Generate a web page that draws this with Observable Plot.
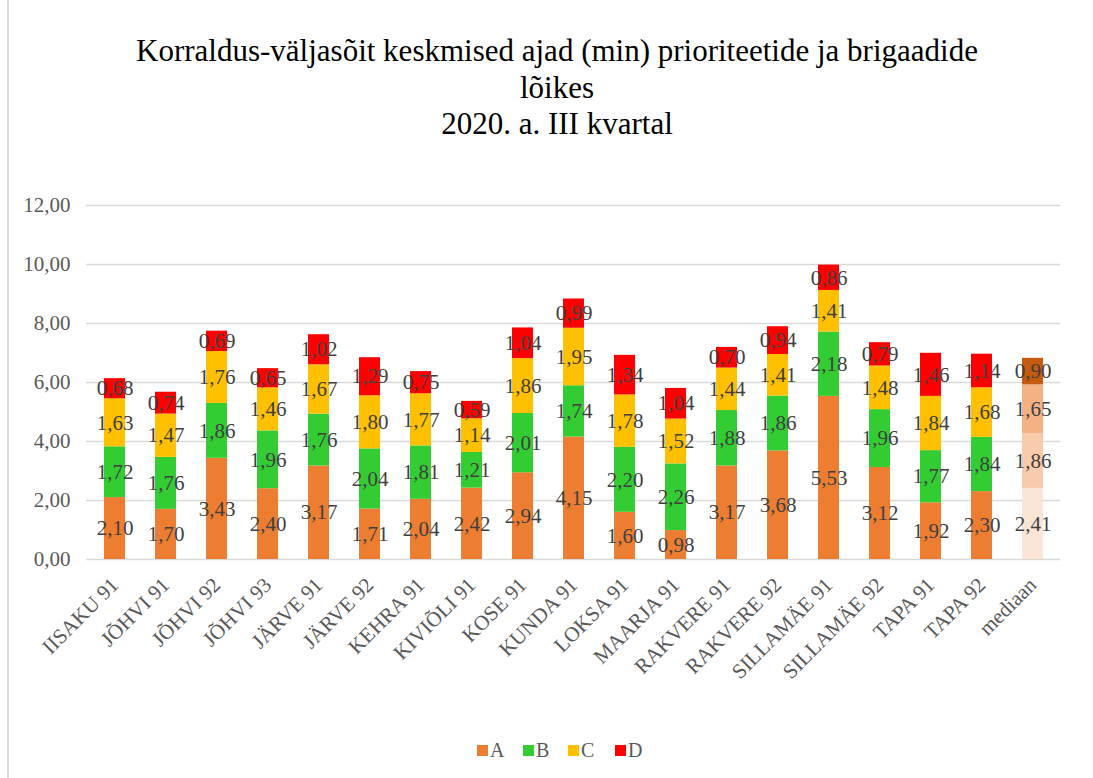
<!DOCTYPE html>
<html>
<head>
<meta charset="utf-8">
<script src="https://cdn.jsdelivr.net/npm/d3@7"></script>
<script src="https://cdn.jsdelivr.net/npm/@observablehq/plot@0.6"></script>
<style>
  html, body { margin: 0; padding: 0; background: #fff; }
  #chart { position: relative; width: 1093px; height: 778px; overflow: hidden; font-family: "Liberation Serif", "Times New Roman", "DejaVu Serif", serif; }
  #border { position: absolute; left: 7px; top: 0; width: 2px; height: 778px; background: #d9d9d9; }
  #title { position: absolute; left: 0; top: 33px; width: 1114px; text-align: center; font-size: 31px; line-height: 36.5px; color: #000; }
  #plot { position: absolute; left: 0; top: 150px; }
  #legend { position: absolute; top: 738px; left: 0; width: 1093px; height: 24px; }
  .li { position: absolute; top: 0; font-size: 20px; color: #595959; line-height: 24px; }
  .sw { display: inline-block; width: 11px; height: 11px; margin-right: 2px; vertical-align: 1px; }
  #plot svg, #plot svg text { font-family: "Liberation Serif", "Times New Roman", "DejaVu Serif", serif !important; }
</style>
</head>
<body>
<div id="chart">
  <div id="border"></div>
  <div id="title">Korraldus-väljasõit keskmised ajad (min) prioriteetide ja brigaadide<br>lõikes<br>2020. a. III kvartal</div>
  <div id="plot"></div>
  <div id="legend"></div>
</div>
<script>
const categories = ["IISAKU 91","JÕHVI 91","JÕHVI 92","JÕHVI 93","JÄRVE 91","JÄRVE 92","KEHRA 91","KIVIÕLI 91","KOSE 91","KUNDA 91","LOKSA 91","MAARJA 91","RAKVERE 91","RAKVERE 92","SILLAMÄE 91","SILLAMÄE 92","TAPA 91","TAPA 92","mediaan"];
const seriesNames = ["A","B","C","D"];
const valuesA = [2.10,1.70,3.43,2.40,3.17,1.71,2.04,2.42,2.94,4.15,1.60,0.98,3.17,3.68,5.53,3.12,1.92,2.30,2.41];
const valuesB = [1.72,1.76,1.86,1.96,1.76,2.04,1.81,1.21,2.01,1.74,2.20,2.26,1.88,1.86,2.18,1.96,1.77,1.84,1.86];
const valuesC = [1.63,1.47,1.76,1.46,1.67,1.80,1.77,1.14,1.86,1.95,1.78,1.52,1.44,1.41,1.41,1.48,1.84,1.68,1.65];
const valuesD = [0.68,0.74,0.69,0.65,1.02,1.29,0.75,0.59,1.04,0.99,1.34,1.04,0.70,0.94,0.86,0.79,1.46,1.14,0.90];
const yTicks = [0,2,4,6,8,10,12];
const colors = {A: "#ED7D31", B: "#33CC33", C: "#FFC000", D: "#FF0000"};
const medianColors = {A: "#FBE5D6", B: "#F8CBAD", C: "#F4B183", D: "#C55A11"};

const seriesValues = [valuesA, valuesB, valuesC, valuesD];
const data = [];
categories.forEach((cat, i) => {
  seriesNames.forEach((s, j) => {
    data.push({cat, series: s, value: seriesValues[j][i],
      color: cat === "mediaan" ? medianColors[s] : colors[s]});
  });
});
const fmt = d => d.toFixed(2).replace(".", ",");
const serif = '"Liberation Serif", "Times New Roman", "DejaVu Serif", serif';

const chart = Plot.plot({
  width: 1093,
  height: 570,
  marginLeft: 86,
  marginRight: 33,
  marginTop: 55,
  marginBottom: 161,
  style: {overflow: "visible", background: "transparent", fontFamily: serif},
  x: {domain: categories, paddingInner: 0.59, paddingOuter: 0.295, label: null},
  y: {domain: [0, 12], label: null},
  color: {type: "identity"},
  marks: [
    Plot.gridY(yTicks, {stroke: "#d9d9d9", strokeOpacity: 1, strokeWidth: 1.5}),
    Plot.barY(data, {x: "cat", y: "value", z: "series", fill: "color"}),
    Plot.text(data, Plot.stackY({x: "cat", y: "value", z: "series", text: d => fmt(d.value), fill: "#404040", fontSize: 21, fontFamily: serif})),
    Plot.axisY(yTicks, {tickSize: 0, tickPadding: 16, tickFormat: fmt, fontSize: 21, fill: "#595959", fontFamily: serif, label: null}),
    Plot.axisX({tickSize: 0, tickPadding: 22, tickRotate: -45, fontSize: 21, fill: "#595959", fontFamily: serif, label: null})
  ]
});
document.getElementById("plot").appendChild(chart);

const legend = document.getElementById("legend");
const legendX = [477, 523, 568, 615];
seriesNames.forEach((s, j) => {
  const item = document.createElement("div");
  item.className = "li";
  item.style.left = legendX[j] + "px";
  item.innerHTML = `<span class="sw" style="background:${colors[s]}"></span>${s}`;
  legend.appendChild(item);
});
</script>
</body>
</html>
